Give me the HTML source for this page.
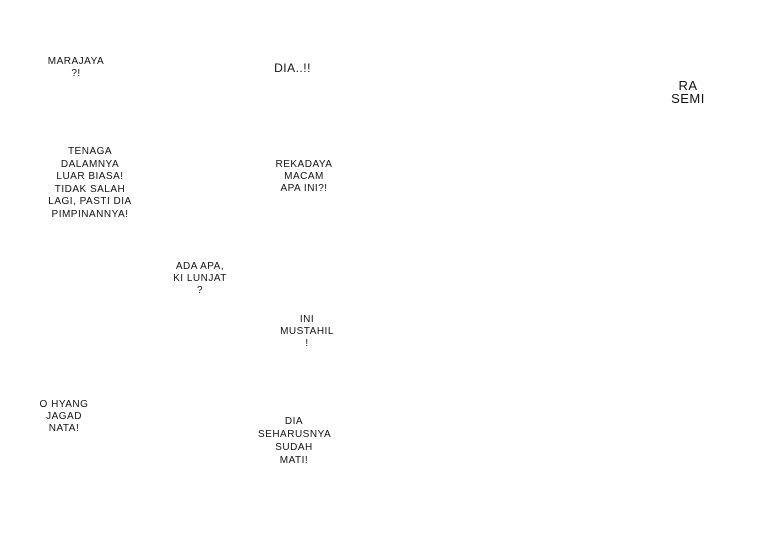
<!DOCTYPE html>
<html><head><meta charset="utf-8"><style>
html,body{margin:0;padding:0;background:#fff;}
body{width:783px;height:550px;position:relative;overflow:hidden;font-family:"Liberation Sans",sans-serif;color:#111;}
.t{position:absolute;text-align:center;font-size:10px;line-height:12px;letter-spacing:0.5px;white-space:nowrap;}
</style></head><body>
<div class="t" style="left:46px;top:56px;width:60px;">MARAJAYA<br>?!</div>
<div class="t" style="left:270px;top:62px;width:45px;font-size:12px;">DIA..!!</div>
<div class="t" style="left:668px;top:79px;width:40px;font-size:13px;line-height:13px;">RA<br>SEMI</div>
<div class="t" style="left:40px;top:146px;width:100px;line-height:12.5px;">TENAGA<br>DALAMNYA<br>LUAR BIASA!<br>TIDAK SALAH<br>LAGI, PASTI DIA<br>PIMPINANNYA!</div>
<div class="t" style="left:272px;top:159px;width:64px;">REKADAYA<br>MACAM<br>APA INI?!</div>
<div class="t" style="left:166px;top:261px;width:68px;">ADA APA,<br>KI LUNJAT<br>?</div>
<div class="t" style="left:278px;top:314px;width:58px;">INI<br>MUSTAHIL<br>!</div>
<div class="t" style="left:36px;top:399px;width:56px;">O HYANG<br>JAGAD<br>NATA!</div>
<div class="t" style="left:258px;top:415px;width:72px;line-height:13px;">DIA<br>SEHARUSNYA<br>SUDAH<br>MATI!</div>
</body></html>
